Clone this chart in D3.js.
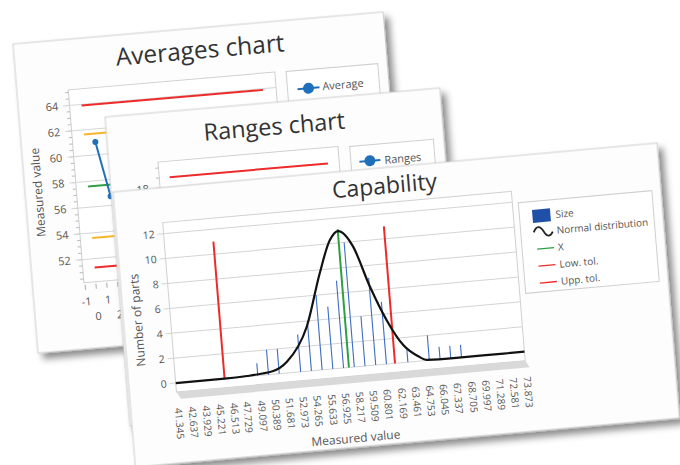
<!DOCTYPE html>
<html><head><meta charset="utf-8">
<script src="https://cdn.jsdelivr.net/npm/d3@7"></script>
<style>body{margin:0;background:#fff}svg{display:block}text{font-family:"Open Sans","Noto Sans",sans-serif}</style>
</head><body>
<svg id="c" width="680" height="465"></svg>
<script>
// ---------------- DATA ----------------
// Averages chart
const avgSubgroups = [1, 2];
const avgValues = [61.0, 56.7];
const avgLimitValues = [63.9, 61.65, 57.6, 53.6, 51.3]; // UCL, UWL, CL, LWL, LCL
const avgLimitSpan = [0, 16.8];
const avgYTicks = [52, 54, 56, 58, 60, 62, 64];
const avgXTicks = [-1, 0, 1, 2, 3, 4, 5, 6, 7, 8, 9, 10, 11, 12, 13, 14, 15, 16, 17];
// Ranges chart
const rangesUCL = 19.0;
const rangesLimitSpan = [0, 16.8];
const rangesYTicks = [0, 6, 12, 18];
// Capability chart
const capCategories = [41.345, 42.637, 43.929, 45.221, 46.513, 47.729, 49.097, 50.389, 51.681, 52.973,
  54.265, 55.633, 56.925, 58.217, 59.509, 60.801, 62.169, 63.461, 64.753, 66.045, 67.337, 68.705,
  69.997, 71.289, 72.581, 73.873];
const capBinX = [49, 50, 51, 53, 54, 55, 56, 57, 58, 59, 60, 61, 63, 65, 66, 67, 68];
const capCounts = [1, 2, 2, 3, 4, 6, 5, 7, 10, 4, 7, 5, 1, 2, 1, 1, 1];
const capCurveX = [41.345, 45.9, 48.0, 50.4, 51.8, 53.9, 55.5, 56.7, 57.5, 58.8, 60.05, 61.35, 62.7, 64.0, 64.8, 67.0, 70.0, 73.873];
const capCurveY = [0, 0, 0.05, 0.25, 0.9, 3.55, 7.7, 10.3, 10.95, 9.6, 6.3, 3.5, 1.4, 0.4, 0.05, 0, 0, 0];
const capMean = 57.5, capMeanTop = 11.1;
const capLowTol = 45.9, capUppTol = 61.8, capTolTop = 11;
const capYTicks = [0, 2, 4, 6, 8, 10, 12];

// ---------------- DRAW ----------------
const svg = d3.select("#c");
const defs = svg.append("defs");
defs.append("filter").attr("id", "sh").attr("x", "-5%").attr("y", "-5%").attr("width", "115%").attr("height", "115%")
  .append("feDropShadow").attr("dx", 5).attr("dy", 6).attr("stdDeviation", 3.5)
  .attr("flood-color", "#000").attr("flood-opacity", 0.45);

const RED = "#ee2b2b", YEL = "#f7b52c", GRN = "#2ea043", BLUE = "#1f6fba", TXT = "#555", TITLE = "#333";

function panel(m, W, H) {
  const g = svg.append("g").attr("transform", `matrix(${m.join(",")})`);
  g.append("rect").attr("width", W).attr("height", H).attr("fill", "#fdfdfd")
    .attr("stroke", "#c4c4c4").attr("stroke-width", 0.8).attr("filter", "url(#sh)");
  return g;
}
function title(g, txt, u, v, fs) {
  g.append("text").attr("x", u).attr("y", v).attr("dy", "0.35em").attr("text-anchor", "middle")
    .attr("font-size", fs).attr("fill", TITLE).text(txt);
}

// ===== Averages =====
{
  const W = 371.4, H = 310;
  const g = panel([0.9962, -0.0862, 0.0806, 0.9968, 13, 44], W, H);
  title(g, "Averages chart", 186, 22, 24.5);
  const x = d3.scaleLinear().domain([-1.1, 18]).range([51.4, 258.7]);
  const y = d3.scaleLinear().domain([50.2, 65.2]).range([244, 50.5]);
  g.append("rect").attr("x", 51.4).attr("y", 50.5).attr("width", 207.3).attr("height", 193.5)
    .attr("fill", "#fff").attr("stroke", "#cfcfcf");
  g.selectAll(".mn").data(d3.range(50.5, 65.01, 0.5)).join("line")
    .attr("x1", 48).attr("x2", 51.4).attr("y1", d => y(d)).attr("y2", d => y(d)).attr("stroke", "#bbb");
  g.selectAll(".gr").data(avgYTicks).join("line")
    .attr("x1", 45).attr("x2", 258.7).attr("y1", d => y(d)).attr("y2", d => y(d)).attr("stroke", "#d6d6d6");
  g.selectAll(".yl").data(avgYTicks).join("text").attr("x", 40).attr("y", d => y(d)).attr("dy", "0.35em")
    .attr("text-anchor", "end").attr("font-size", 11).attr("fill", TXT).text(d => d);
  g.selectAll(".xt").data(avgXTicks).join("line")
    .attr("x1", d => x(d)).attr("x2", d => x(d)).attr("y1", 246).attr("y2", 251).attr("stroke", "#aaa");
  g.selectAll(".xl").data(avgXTicks).join("text").attr("x", d => x(d)).attr("y", d => (Math.abs(d) % 2 === 1) ? 263 : 278.5)
    .attr("dy", "0.35em").attr("text-anchor", "middle").attr("font-size", 11).attr("fill", TXT).text(d => d);
  g.append("text").attr("transform", "translate(13,150) rotate(-90)").attr("dy", "0.35em").attr("text-anchor", "middle")
    .attr("font-size", 12).attr("fill", TXT).text("Measured value");
  const cols = [RED, YEL, GRN, YEL, RED];
  g.selectAll(".lim").data(avgLimitValues).join("line")
    .attr("x1", x(avgLimitSpan[0])).attr("x2", x(avgLimitSpan[1])).attr("y1", d => y(d)).attr("y2", d => y(d))
    .attr("stroke", (d, i) => cols[i]).attr("stroke-width", 2);
  const pts = avgSubgroups.map((s, i) => [s, avgValues[i]]);
  g.append("path").attr("d", d3.line().x(d => x(d[0])).y(d => y(d[1]))(pts)).attr("fill", "none")
    .attr("stroke", BLUE).attr("stroke-width", 2);
  g.selectAll(".pt").data(pts).join("circle").attr("cx", d => x(d[0])).attr("cy", d => y(d[1])).attr("r", 3).attr("fill", BLUE);
  g.append("rect").attr("x", 270).attr("y", 51).attr("width", 92).attr("height", 40).attr("fill", "#fff").attr("stroke", "#cfcfcf");
  g.append("line").attr("x1", 280).attr("x2", 302).attr("y1", 69.5).attr("y2", 69.5).attr("stroke", BLUE).attr("stroke-width", 2);
  g.append("circle").attr("cx", 291).attr("cy", 69.5).attr("r", 5.5).attr("fill", BLUE);
  g.append("text").attr("x", 305).attr("y", 69).attr("dy", "0.35em").attr("font-size", 11).attr("fill", TXT).text("Average");
}

// ===== Ranges =====
{
  const W = 336, H = 310;
  const g = panel([0.9963, -0.0863, 0.0806, 0.9968, 105, 117], W, H);
  title(g, "Ranges chart", 168, 24, 23.5);
  const x = d3.scaleLinear().domain([-1.1, 18]).range([49.2, 229.8]);
  const y = d3.scaleLinear().domain([0, 20.6]).range([255.5, 49.5]);
  g.append("rect").attr("x", 49.2).attr("y", 49.5).attr("width", 180.6).attr("height", 206)
    .attr("fill", "#fff").attr("stroke", "#cfcfcf");
  g.selectAll(".mn").data(d3.range(0, 20.01, 1)).join("line")
    .attr("x1", 46).attr("x2", 49.2).attr("y1", d => y(d)).attr("y2", d => y(d)).attr("stroke", "#bbb");
  g.selectAll(".gr").data(rangesYTicks).join("line")
    .attr("x1", 43).attr("x2", 229.8).attr("y1", d => y(d)).attr("y2", d => y(d)).attr("stroke", "#d6d6d6");
  g.selectAll(".yl").data(rangesYTicks).join("text").attr("x", 38).attr("y", d => y(d)).attr("dy", "0.35em")
    .attr("text-anchor", "end").attr("font-size", 11).attr("fill", TXT).text(d => d);
  g.append("line").attr("x1", x(rangesLimitSpan[0])).attr("x2", x(rangesLimitSpan[1]))
    .attr("y1", y(rangesUCL)).attr("y2", y(rangesUCL)).attr("stroke", RED).attr("stroke-width", 2);
  g.append("rect").attr("x", 241.5).attr("y", 50.5).attr("width", 84).attr("height", 40).attr("fill", "#fff").attr("stroke", "#cfcfcf");
  g.append("line").attr("x1", 250).attr("x2", 271).attr("y1", 66.5).attr("y2", 66.5).attr("stroke", BLUE).attr("stroke-width", 2);
  g.append("circle").attr("cx", 260.5).attr("cy", 66.5).attr("r", 5.5).attr("fill", BLUE);
  g.append("text").attr("x", 275).attr("y", 67).attr("dy", "0.35em").attr("font-size", 11).attr("fill", TXT).text("Ranges");
}

// ===== Capability =====
{
  const W = 546, H = 276;
  const g = panel([0.9963, -0.0897, 0.0812, 0.9964, 113, 192], W, H);
  title(g, "Capability", 271, 18, 23);
  const x = d3.scaleLinear().domain([capCategories[0], capCategories[capCategories.length - 1]]).range([47, 397]);
  const y = d3.scaleLinear().domain([0, 12]).range([196, 46]);
  g.append("rect").attr("x", 47).attr("y", 35).attr("width", 350).attr("height", 170)
    .attr("fill", "#fff").attr("stroke", "#d0d0d0");
  g.selectAll(".gr").data(capYTicks).join("line")
    .attr("x1", 41).attr("x2", 397).attr("y1", d => y(d)).attr("y2", d => y(d)).attr("stroke", "#d4d4d4");
  g.selectAll(".yl").data(capYTicks).join("text").attr("x", 38).attr("y", d => y(d)).attr("dy", "0.35em")
    .attr("text-anchor", "end").attr("font-size", 10.5).attr("fill", TXT).text(d => d);
  g.append("path").attr("d", "M47,205 L397,205 L401,212 L51,212 Z").attr("fill", "#d9d9d9");
  const xa = g.append("g").attr("transform", "translate(0,213)")
    .call(d3.axisBottom(x).tickValues(capCategories).tickSize(0).tickFormat(d3.format(".3f")));
  xa.select(".domain").remove();
  xa.selectAll("text").attr("y", 0).attr("x", 8).attr("dy", "0.35em").attr("transform", "rotate(90)")
    .style("text-anchor", "start").attr("font-size", 10).attr("fill", TXT)
    .style("font-family", '"Open Sans","Noto Sans",sans-serif');
  g.append("text").attr("x", 222).attr("y", 267).attr("dy", "0.35em").attr("text-anchor", "middle")
    .attr("font-size", 12).attr("fill", TXT).text("Measured value");
  g.append("text").attr("transform", "translate(14,130) rotate(-90)").attr("dy", "0.35em").attr("text-anchor", "middle")
    .attr("font-size", 12).attr("fill", TXT).text("Number of parts");
  g.selectAll(".bar").data(capBinX).join("line")
    .attr("x1", d => x(d)).attr("x2", d => x(d)).attr("y1", y(0)).attr("y2", (d, i) => y(capCounts[i]))
    .attr("stroke", "#3d6cc4").attr("stroke-width", 1.1);
  g.selectAll(".tol").data([capLowTol, capUppTol]).join("line")
    .attr("x1", d => x(d)).attr("x2", d => x(d)).attr("y1", y(0)).attr("y2", y(capTolTop))
    .attr("stroke", RED).attr("stroke-width", 2);
  g.append("line").attr("x1", x(capMean)).attr("x2", x(capMean)).attr("y1", y(0)).attr("y2", y(capMeanTop))
    .attr("stroke", GRN).attr("stroke-width", 2);
  const cpts = capCurveX.map((v, i) => [v, capCurveY[i]]);
  g.append("path").attr("d", d3.line().x(d => x(d[0])).y(d => y(d[1])).curve(d3.curveMonotoneX)(cpts))
    .attr("fill", "none").attr("stroke", "#111").attr("stroke-width", 2.2);
  g.append("rect").attr("x", 403).attr("y", 47).attr("width", 134).attr("height", 91).attr("fill", "#fff").attr("stroke", "#cfcfcf");
  const lg = g.append("g");
  lg.append("rect").attr("x", 416).attr("y", 55.5).attr("width", 18).attr("height", 13).attr("fill", "#1f4fa6");
  lg.append("path").attr("d", "M416,78 C419,71 423,72 426,78 C429,84 432,84 435,79").attr("fill", "none")
    .attr("stroke", "#222").attr("stroke-width", 1.8);
  lg.append("line").attr("x1", 418).attr("x2", 435).attr("y1", 95).attr("y2", 95).attr("stroke", GRN).attr("stroke-width", 1.3);
  lg.append("line").attr("x1", 418).attr("x2", 435).attr("y1", 112).attr("y2", 112).attr("stroke", RED).attr("stroke-width", 1.3);
  lg.append("line").attr("x1", 418).attr("x2", 435).attr("y1", 129).attr("y2", 129).attr("stroke", RED).attr("stroke-width", 1.3);
  const names = ["Size", "Normal distribution", "X", "Low. tol.", "Upp. tol."];
  const vs = [62, 78, 95, 112, 129];
  lg.selectAll(".lt").data(names).join("text").attr("x", 439).attr("y", (d, i) => vs[i]).attr("dy", "0.35em")
    .attr("font-size", 10).attr("fill", TXT).text(d => d);
}
</script>
</body></html>
